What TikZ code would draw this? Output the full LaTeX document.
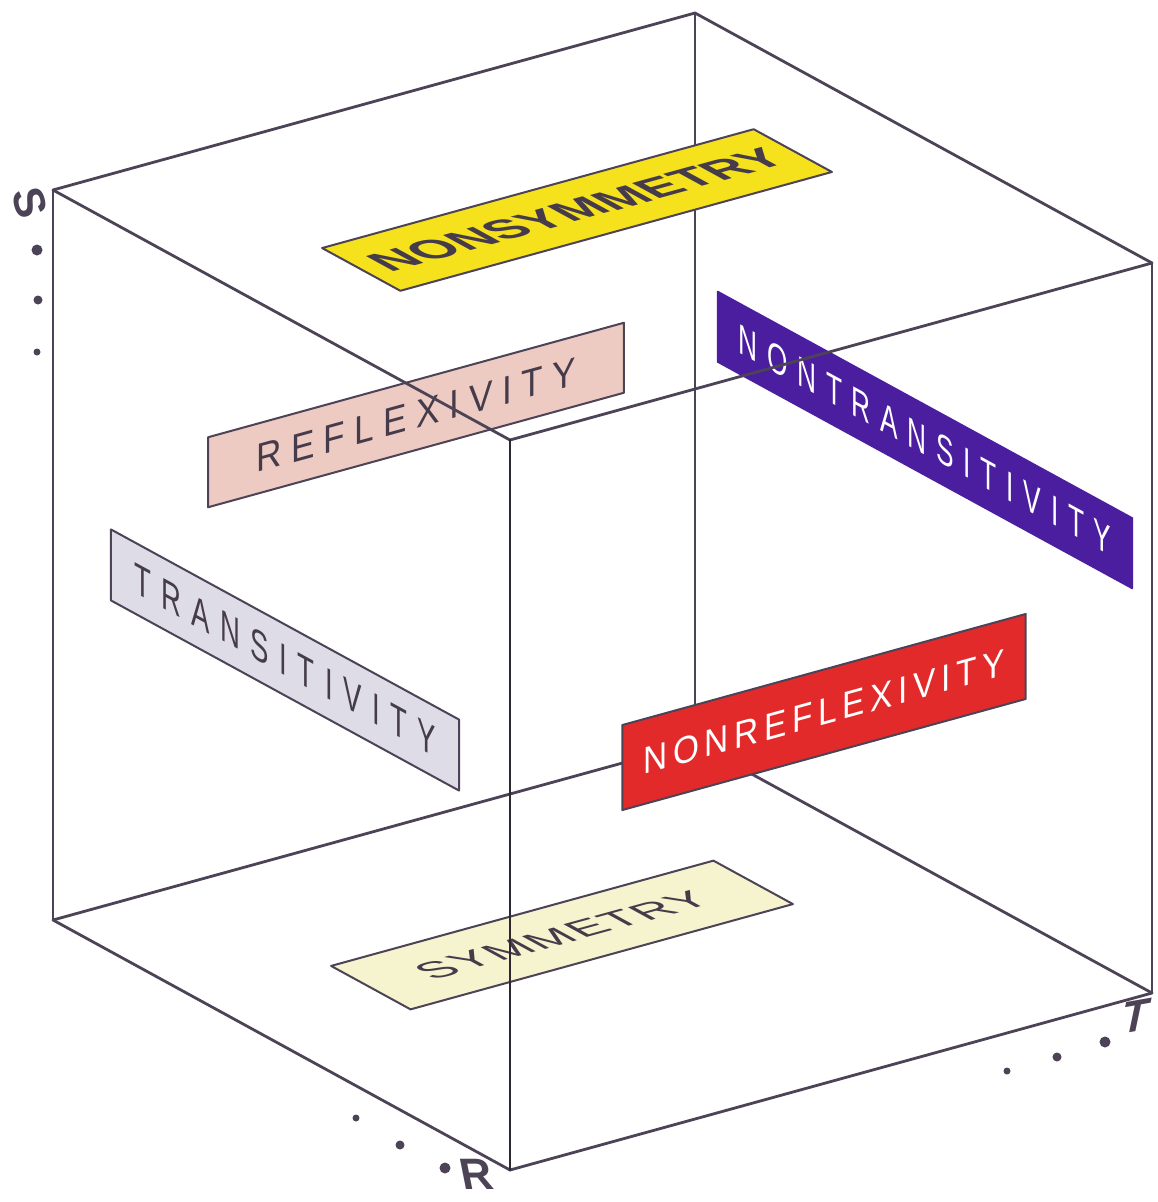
\documentclass[tikz,border=0pt]{standalone}
\usepackage{fontspec}
\usepackage{graphicx}
\newfontfamily\lblfont{Liberation Sans}
\definecolor{edgecol}{HTML}{4D4356}
\definecolor{frontcol}{HTML}{2E2833}
\definecolor{yel}{HTML}{F6E21C}
\definecolor{pinkf}{HTML}{EDCBC2}
\definecolor{lav}{HTML}{DEDCE6}
\definecolor{indig}{HTML}{4A1E9E}
\definecolor{redf}{HTML}{E22A2B}
\definecolor{cream}{HTML}{F6F3CF}
\definecolor{txtdark}{HTML}{453B4A}
\begin{document}
\begin{tikzpicture}[x=1pt,y=-1pt,
  edge/.style={draw=edgecol, line width=2.8pt, line cap=round, line join=round},
  plate/.style={transform shape, draw=edgecol, line width=2pt, inner sep=0pt, line join=round},
  planeAB/.style={cm={0.879,0.242,0,1,(0,0)}},
  planeAD/.style={cm={0.626,-0.342,0,1,(0,0)}},
  planeH/.style={cm={0.879,0.242,-0.626,0.342,(0,0)}},
  dot/.style={circle, fill=edgecol, inner sep=0pt},
  axislbl/.style={font=\lblfont\bfseries\fontsize{44}{44}\selectfont, text=edgecol, inner sep=0pt}
]
\useasboundingbox (0,0) rectangle (1157,1202);
% cube corners
\coordinate (A) at (53,190);
\coordinate (B) at (695,13);
\coordinate (C) at (1152,263);
\coordinate (D) at (510,440);
\coordinate (A2) at (53,920);
\coordinate (B2) at (695,743);
\coordinate (C2) at (1152,993);
\coordinate (D2) at (510,1170);
% hidden / back edges
\draw[edge] (A) -- (B) -- (C);
\draw[edge] (B) -- (B2);
\draw[edge] (A2) -- (B2) -- (C2);
% plates
\begin{scope}[shift={(577,210)}]
\node[plate, planeH, fill=yel, minimum width=491pt, minimum height=125pt] (nonsym) at (0,0)
  {\lblfont\bfseries\fontsize{58}{58}\selectfont\color{txtdark}\scalebox{1}[1.1]{NONSYMMETRY}};
\end{scope}
\begin{scope}[shift={(416,415)}]
\node[plate, planeAB, fill=pinkf, minimum width=473pt, minimum height=70pt] (refl) at (0,0)
  {\lblfont\fontsize{40}{40}\selectfont\addfontfeature{LetterSpace=27}\color{txtdark}REFLEXIVITY};
\end{scope}
\begin{scope}[shift={(285,660)}]
\node[plate, planeAD, fill=lav, minimum width=556pt, minimum height=71pt] (trans) at (0,0)
  {\lblfont\fontsize{44}{44}\selectfont\addfontfeature{LetterSpace=38}\color{txtdark}TRANSITIVITY};
\end{scope}
\begin{scope}[shift={(925,440)}]
\node[plate, planeAD, fill=indig, draw=indig, minimum width=662pt, minimum height=70pt] (nontrans) at (0,0)
  {\lblfont\fontsize{42}{42}\selectfont\addfontfeature{LetterSpace=37}\color{white}NONTRANSITIVITY};
\end{scope}
\begin{scope}[shift={(824,712)}]
\node[plate, planeAB, fill=redf, minimum width=459pt, minimum height=85pt] (nonrefl) at (0,0)
  {\lblfont\fontsize{38}{38}\selectfont\addfontfeature{LetterSpace=17}\color{white}NONREFLEXIVITY};
\end{scope}
\begin{scope}[shift={(562,935)}]
\node[plate, planeH, fill=cream, minimum width=435pt, minimum height=127pt] (sym) at (0,0)
  {\lblfont\fontsize{54}{54}\selectfont\addfontfeature{LetterSpace=4}\color{txtdark}SYMMETRY};
\end{scope}
% front edges
\draw[edge] (A) -- (D) -- (C);
\draw[edge] (A) -- (A2);
\draw[edge] (C) -- (C2);
\draw[edge] (A2) -- (D2) -- (C2);
\draw[edge, draw=frontcol] (D) -- (D2);
% axis dots
\node[dot, minimum size=11pt] (s1) at (37,250) {};
\node[dot, minimum size=9pt] (s2) at (38,300) {};
\node[dot, minimum size=7pt] (s3) at (37,352) {};
\node[dot, minimum size=7pt] (r1) at (356,1118) {};
\node[dot, minimum size=9pt] (r2) at (400,1145) {};
\node[dot, minimum size=11pt] (r3) at (445,1168) {};
\node[dot, minimum size=7pt] (t1) at (1007,1071) {};
\node[dot, minimum size=9pt] (t2) at (1057,1057) {};
\node[dot, minimum size=11pt] (t3) at (1105,1042) {};
% axis letters
\node[axislbl, rotate=-75] (S) at (30,203) {S};
\node[axislbl, xslant=-0.2] (R) at (476,1174) {R};
\node[axislbl, rotate=10, xslant=0.4] (T) at (1136,1016) {T};
\end{tikzpicture}
\end{document}
